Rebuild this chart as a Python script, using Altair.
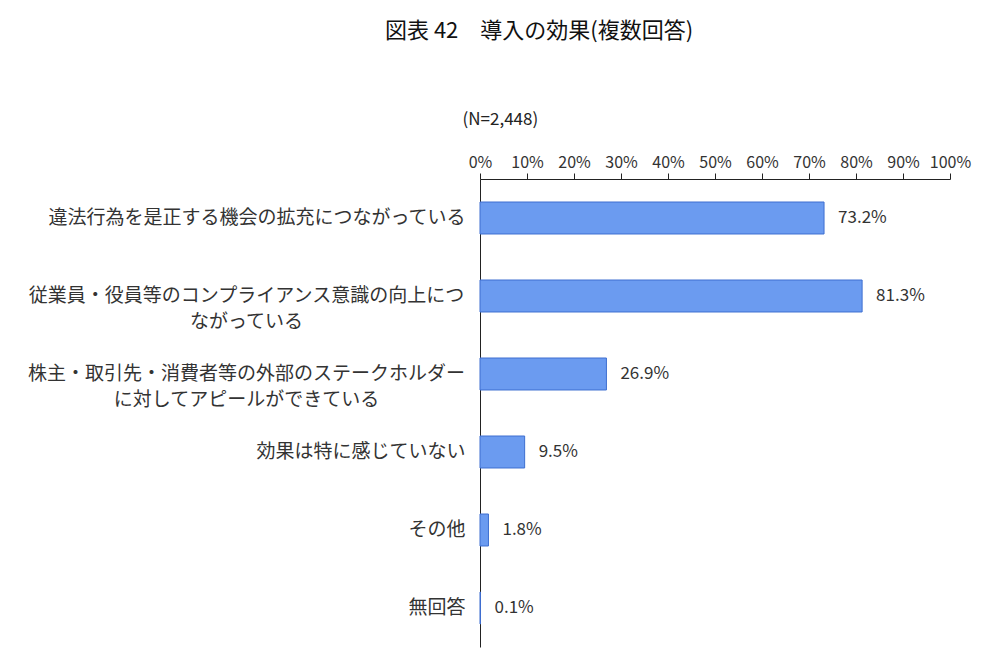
import altair as alt
import pandas as pd

CATEGORIES = [
    '違法行為を是正する機会の拡充につながっている',
    '従業員・役員等のコンプライアンス意識の向上につ\nながっている',
    '株主・取引先・消費者等の外部のステークホルダー\nに対してアピールができている',
    '効果は特に感じていない',
    'その他',
    '無回答',
]
SHARES = [73.2, 81.3, 26.9, 9.5, 1.8, 0.1]
TICKS = [0, 10, 20, 30, 40, 50, 60, 70, 80, 90, 100]

FONT = 'Noto Sans CJK JP'
MULTILINE = "indexof(datum.value, '\\n') >= 0"

data = pd.DataFrame({'item': CATEGORIES, 'share': SHARES})
data['label'] = [f'{v:.1f}%' for v in SHARES]

x = alt.X(
    'share:Q', title='(N=2,448)', scale=alt.Scale(domain=[0, 100]),
    axis=alt.Axis(
        orient='top', values=TICKS, labelExpr="datum.value + '%'", grid=False,
        labelOverlap=False, labelFlush=False,
        tickSize=6, tickColor='#222', domainColor='#222', labelPadding=3,
        labelFont=FONT, labelFontSize=16, labelColor='#333',
        titleFont=FONT, titleFontSize=17, titleFontWeight='normal', titleColor='#222',
        titleAlign='left', titleAnchor='start', titleX=-18, titleY=-60, titleBaseline='middle',
    ),
)
y = alt.Y(
    'item:N', sort=None, title=None,
    scale=alt.Scale(paddingInner=0.59, paddingOuter=0.295),
    axis=alt.Axis(
        labelExpr="split(datum.label, '\\n')", ticks=False, domainColor='#222',
        labelFont=FONT, labelFontSize=19, labelColor='#333', labelLineHeight=26, labelLimit=600,
        labelAlign={'condition': {'test': MULTILINE, 'value': 'center'}, 'value': 'right'},
        labelPadding={'condition': {'test': MULTILINE, 'value': 234}, 'value': 15},
    ),
)

base = alt.Chart(data)
bars = base.mark_bar(color='#6B9BF0', stroke='#3E6FD0', strokeWidth=1).encode(x=x, y=y)
text = base.mark_text(align='left', dx=14, font=FONT, fontSize=17, color='#333').encode(
    x='share:Q', y=alt.Y('item:N', sort=None), text='label:N'
)

chart = (bars + text).properties(
    width=470,
    height=468,
    padding={'left': 19, 'top': 12, 'right': 5, 'bottom': 5},
    title=alt.TitleParams(
        '図表 42　導入の効果(複数回答)', font=FONT, fontSize=22, fontWeight='normal',
        color='#111', anchor='middle', frame='bounds', dx=40, offset=67,
    ),
).configure_view(stroke=None)

chart.save('out.html', embed_options={'renderer': 'svg', 'actions': False})
